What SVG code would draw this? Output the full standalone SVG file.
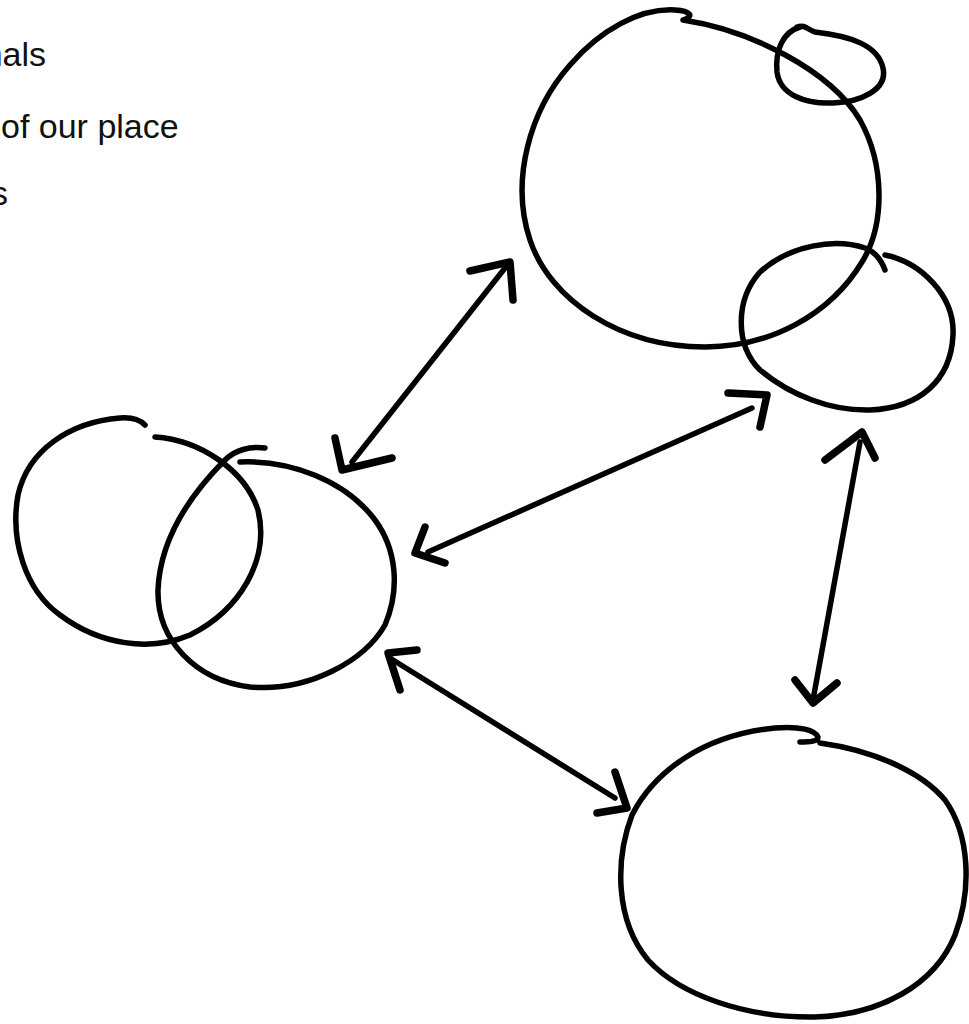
<svg xmlns="http://www.w3.org/2000/svg" width="969" height="1024" viewBox="0 0 969 1024">
<style>
.ink{fill:none;stroke:#000;stroke-width:5.5;stroke-linecap:round;stroke-linejoin:round}
.head{fill:none;stroke:#000;stroke-width:7.5;stroke-linecap:round;stroke-linejoin:round}
.lbl{font-family:"Liberation Sans",Arial,sans-serif;font-size:34px;fill:#111}
</style>
<rect width="969" height="1024" fill="#fff"/>
<g id="labels">
<text class="lbl" x="46" y="66" text-anchor="end">nals</text>
<text class="lbl" x="1" y="138">of our place</text>
<text class="lbl" x="8" y="205" text-anchor="end">s</text>
</g>
<g id="node-top">
<path class="ink" d="M 683 20 C 750 30, 830 70, 860 120 C 885 165, 885 225, 862 262 C 830 315, 770 347, 705 347 C 620 347, 550 300, 530 240 C 510 180, 530 110, 570 65 C 600 30, 640 8, 675 10 C 690 11, 695 16, 683 20"/>
<path class="ink" d="M 797 27 C 805 24, 808 30, 815 32 C 850 36, 878 45, 883 68 C 888 90, 860 102, 833 103 C 805 104, 780 95, 777 72 C 775 50, 783 32, 800 27"/>
<path class="ink" d="M 885 255 C 920 262, 955 295, 953 335 C 951 380, 920 408, 870 410 C 830 411, 790 395, 760 370 C 735 345, 735 300, 760 272 C 790 245, 835 238, 865 248 C 876 252, 882 262, 885 270"/>
</g>
<g id="node-left">
<path class="ink" d="M 155 437 C 200 440, 245 470, 258 510 C 270 560, 240 610, 190 635 C 150 652, 100 645, 60 615 C 25 590, 10 540, 18 495 C 28 450, 70 422, 120 418 C 132 417, 140 420, 145 425"/>
<path class="ink" d="M 265 448 C 250 446, 235 450, 225 460 C 190 495, 160 540, 158 590 C 157 640, 195 680, 250 687 C 310 692, 365 660, 385 625 C 400 590, 397 550, 375 520 C 345 480, 290 460, 240 462"/>
</g>
<g id="node-bottom">
<path class="ink" d="M 820 743 C 870 750, 920 770, 945 800 C 970 835, 972 890, 955 935 C 935 985, 880 1015, 815 1017 C 745 1018, 680 995, 648 960 C 615 920, 615 860, 632 815 C 655 770, 705 735, 775 728 C 800 726, 815 730, 818 737 C 818 742, 808 742, 800 742"/>
</g>
<g id="connectors">
<path class="ink" d="M 505 268 L 352 462"/>
<path class="head" d="M 470 271 L 510 262 L 513 300"/>
<path class="head" d="M 335 438 L 342 470 L 392 458"/>
<path class="ink" d="M 752 408 L 428 552"/>
<path class="head" d="M 728 393 L 767 395 L 760 427"/>
<path class="head" d="M 425 527 L 415 553 L 445 563"/>
<path class="ink" d="M 393 660 L 615 798"/>
<path class="head" d="M 417 650 L 388 653 L 400 690"/>
<path class="head" d="M 615 772 L 627 808 L 597 813"/>
<path class="ink" d="M 860 442 L 813 700"/>
<path class="head" d="M 825 460 L 862 432 L 875 458"/>
<path class="head" d="M 795 680 L 813 703 L 837 683"/>
</g>
</svg>
